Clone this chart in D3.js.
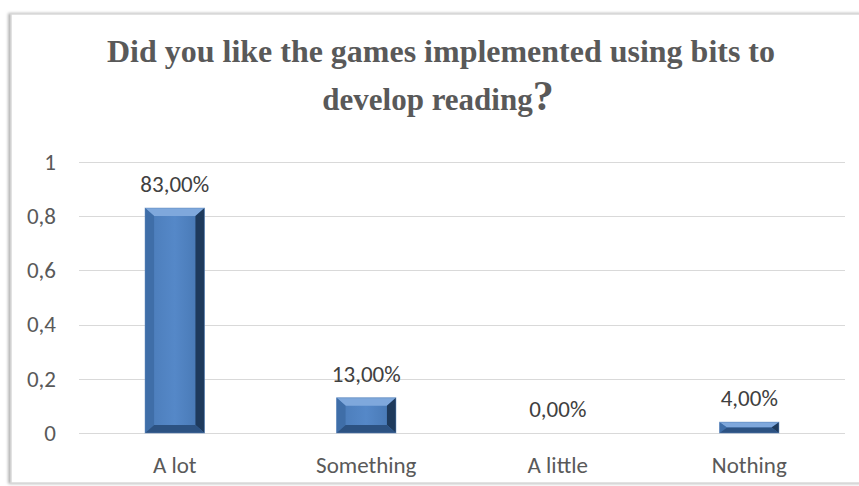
<!DOCTYPE html>
<html>
<head>
<meta charset="utf-8">
<script src="https://cdn.jsdelivr.net/npm/d3@7"></script>
<style>
  body { margin: 0; background: #fff; }
  svg { display: block; }
</style>
</head>
<body>
<div id="chart"></div>
<script>
// survey answers
var categories = ["A lot", "Something", "A little", "Nothing"];
var values = [0.83, 0.13, 0.00, 0.04];
var valueLabels = ["83,00%", "13,00%", "0,00%", "4,00%"];
var yTicks = [0, 0.2, 0.4, 0.6, 0.8, 1];

var W = 859, H = 486;
var font = "Carlito, Lato, 'Open Sans', sans-serif";
var svg = d3.select("#chart").append("svg")
    .attr("width", W)
    .attr("height", H);

var defs = svg.append("defs");
var sh = defs.append("filter").attr("id", "shadow")
    .attr("x", "-5%").attr("y", "-5%").attr("width", "110%").attr("height", "110%");
sh.append("feDropShadow").attr("dx", -2).attr("dy", 0).attr("stdDeviation", 1.5)
    .attr("flood-color", "#999").attr("flood-opacity", 0.8);

var face = defs.append("linearGradient").attr("id", "face")
    .attr("x1", 0).attr("x2", 1).attr("y1", 0).attr("y2", 0);
face.append("stop").attr("offset", "0%").attr("stop-color", "#4a7bb8");
face.append("stop").attr("offset", "50%").attr("stop-color", "#5588c8");
face.append("stop").attr("offset", "100%").attr("stop-color", "#4575b0");

// chart frame
svg.append("rect")
    .attr("x", 11).attr("y", 14)
    .attr("width", W - 8).attr("height", 469)
    .attr("fill", "#fff")
    .attr("stroke", "#d9d9d9")
    .attr("stroke-width", 1.5)
    .attr("filter", "url(#shadow)");

// title
var title = svg.append("g")
    .attr("font-family", "'Liberation Serif', 'Times New Roman', serif")
    .attr("font-weight", "bold")
    .attr("fill", "#595959")
    .attr("text-anchor", "middle");
title.append("text")
    .attr("x", 441).attr("y", 62)
    .attr("font-size", 31)
    .attr("textLength", 668).attr("lengthAdjust", "spacingAndGlyphs")
    .text("Did you like the games implemented using bits to");
var t2 = title.append("text")
    .attr("x", 438).attr("y", 110)
    .attr("font-size", 31);
t2.append("tspan").text("develop reading");
t2.append("tspan").attr("font-size", 42).text("?");

var margin = {left: 79, right: 14, top: 162, bottom: 53};
var x = d3.scaleBand()
    .domain(categories)
    .range([margin.left, W - margin.right])
    .paddingInner(0.69).paddingOuter(0.345);
var y = d3.scaleLinear()
    .domain([0, 1])
    .range([H - margin.bottom, margin.top]);

// gridlines
svg.append("g").selectAll("line")
    .data(yTicks)
  .enter().append("line")
    .attr("x1", margin.left).attr("x2", W - margin.right)
    .attr("y1", function(d) { return Math.round(y(d)) + 0.5; })
    .attr("y2", function(d) { return Math.round(y(d)) + 0.5; })
    .attr("stroke", "#d9d9d9")
    .attr("stroke-width", 1);

// y axis labels
var yAxis = svg.append("g")
    .attr("transform", "translate(" + 66 + ",0)")
    .call(d3.axisLeft(y).tickValues(yTicks).tickSize(0).tickPadding(10)
        .tickFormat(function(d) { return String(d).replace(".", ","); }));
yAxis.select(".domain").remove();
yAxis.selectAll("text")
    .attr("font-family", font)
    .attr("font-size", 23)
    .attr("fill", "#595959");

// x axis labels
var xAxis = svg.append("g")
    .attr("transform", "translate(0," + (H - margin.bottom) + ")")
    .call(d3.axisBottom(x).tickSize(0).tickPadding(24));
xAxis.select(".domain").remove();
xAxis.selectAll("text")
    .attr("font-family", font)
    .attr("font-size", 23)
    .attr("fill", "#595959");

// bevelled bars
var bars = svg.append("g").selectAll(".bar")
    .data(values)
  .enter().append("g")
    .attr("class", "bar");

function bevel(d, i) {
  var x0 = x(categories[i]), x1 = x0 + x.bandwidth();
  var y0 = y(d), y1 = y(0);
  var h = y1 - y0;
  var b = Math.min(8, h / 2), bx = Math.min(9, h / 2 + 2);
  return {x0: x0, x1: x1, y0: y0, y1: y1, b: b, bx: bx, h: h};
}

bars.each(function(d, i) {
  if (d <= 0) return;
  var g = d3.select(this);
  var p = bevel(d, i);
  g.append("rect")
      .attr("x", p.x0).attr("y", p.y0)
      .attr("width", p.x1 - p.x0).attr("height", p.h)
      .attr("fill", "url(#face)");
  var pts = function(a) { return a.map(function(q) { return q.join(","); }).join(" "); };
  // top
  g.append("polygon").attr("fill", "#7fa8dc")
      .attr("points", pts([[p.x0, p.y0], [p.x1, p.y0], [p.x1 - p.bx, p.y0 + p.b], [p.x0 + p.bx, p.y0 + p.b]]));
  // left
  g.append("polygon").attr("fill", "#3f6ea8")
      .attr("points", pts([[p.x0, p.y0], [p.x0 + p.bx, p.y0 + p.b], [p.x0 + p.bx, p.y1 - p.b], [p.x0, p.y1]]));
  // right
  g.append("polygon").attr("fill", "#1e3a5c")
      .attr("points", pts([[p.x1, p.y0], [p.x1, p.y1], [p.x1 - p.bx, p.y1 - p.b], [p.x1 - p.bx, p.y0 + p.b]]));
  // bottom
  g.append("polygon").attr("fill", "#2c5282")
      .attr("points", pts([[p.x0, p.y1], [p.x0 + p.bx, p.y1 - p.b], [p.x1 - p.bx, p.y1 - p.b], [p.x1, p.y1]]));
  g.append("rect")
      .attr("x", p.x0).attr("y", p.y0)
      .attr("width", p.x1 - p.x0).attr("height", p.h)
      .attr("fill", "none").attr("stroke", "#5b86bb").attr("stroke-opacity", 0.5);
});

// value labels
svg.append("g").selectAll("text")
    .data(values)
  .enter().append("text")
    .attr("x", function(d, i) { return x(categories[i]) + x.bandwidth() / 2; })
    .attr("y", function(d) { return y(d) - 16; })
    .attr("text-anchor", "middle")
    .attr("font-family", font)
    .attr("font-size", 23)
    .attr("fill", "#404040")
    .text(function(d, i) { return valueLabels[i]; });
</script>
</body>
</html>
